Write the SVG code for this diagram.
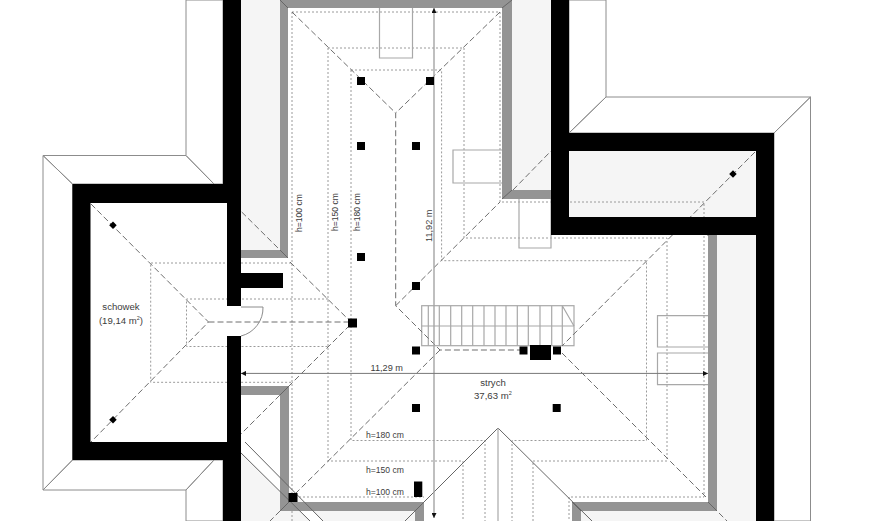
<svg xmlns="http://www.w3.org/2000/svg" width="885" height="521" viewBox="0 0 885 521">
<style>
.wall{fill:#000}
.light{fill:#f5f5f5}
.band{fill:#949494}
.dot{fill:none;stroke:#9a9a9a;stroke-width:1;stroke-dasharray:2 2}
.dash{fill:none;stroke:#6e6e6e;stroke-width:1;stroke-dasharray:6 3}
.edge{fill:none;stroke:#a8a8a8;stroke-width:1.2}
.thin{fill:none;stroke:#666;stroke-width:1}
.sq{fill:#000}
.outline{fill:none;stroke:#8c8c8c;stroke-width:1}
text{font-family:"Liberation Sans",Arial,sans-serif;font-size:9.6px;fill:#3c3c3c}
.dim{font-size:9.2px}
.sm{font-size:8.6px}
.sup{font-size:5.5px}
</style>
<defs>
<pattern id="hh" patternUnits="userSpaceOnUse" width="6.2" height="6.2"><rect width="6.2" height="6.2" fill="#fff"/><path d="M0 3H6.2" stroke="#a0a0a0" stroke-width="1.2"/></pattern>
<pattern id="hv" patternUnits="userSpaceOnUse" width="6.2" height="6.2"><rect width="6.2" height="6.2" fill="#fff"/><path d="M3 0V6.2" stroke="#a0a0a0" stroke-width="1.2"/></pattern>
<marker id="ah" markerWidth="6" markerHeight="5" refX="5" refY="2.5" orient="auto-start-reverse" markerUnits="userSpaceOnUse"><path d="M0 0L5 2.5L0 5Z" fill="#111"/></marker>
</defs>
<rect width="885" height="521" fill="#fff"/>

<g id="hatching">
<path fill="url(#hh)" class="outline" d="M43 155.5L72.5 184V460L43 490Z"/>
<path fill="url(#hh)" class="outline" d="M810.5 97L774 133V521H810.5Z"/>
<path fill="url(#hh)" class="outline" d="M186 0V155.5L214 184H223V0Z"/>
<path fill="url(#hh)" class="outline" d="M186 521V490L214 460H223V521Z"/>
<path fill="url(#hh)" class="outline" d="M569 0H606V97L569 133Z"/>
<path fill="url(#hv)" class="outline" d="M43 155.5H186L214 184H72.5Z"/>
<path fill="url(#hv)" class="outline" d="M72.5 460H214L186 490H43Z"/>
<path fill="url(#hv)" class="outline" d="M606 97H810.5L774 133H569Z"/>
</g>

<g id="eaves">
<rect class="light" x="241" y="0" width="39" height="250"/>
<rect class="light" x="512" y="0" width="39" height="190"/>
<rect class="light" x="569" y="151" width="187" height="66"/>
<rect class="light" x="717" y="235" width="39" height="286"/>
<path class="light" d="M581 521V511H717V521Z"/>
<path class="light" d="M245 442L280 479V395H241V442Z" fill="#fff" style="fill:#fff"/>
<path class="light" d="M241 452L310 521H241Z"/>
<path class="light" d="M245 442L280 479V511H415V521H323Z"/>
<rect class="band" x="280" y="0" width="8" height="258"/>
<rect class="band" x="241" y="250" width="47" height="8"/>
<rect class="band" x="288" y="0" width="224" height="8"/>
<rect class="band" x="502" y="0" width="10" height="199"/>
<rect class="band" x="502" y="190" width="49" height="9"/>
<rect class="band" x="708" y="235" width="9" height="276"/>
<rect class="band" x="572" y="502" width="145" height="9"/>
<rect class="band" x="572" y="502" width="9" height="19"/>
<rect class="band" x="241" y="386" width="48" height="9"/>
<rect class="band" x="280" y="386" width="9" height="125"/>
<rect class="band" x="280" y="502" width="144" height="9"/>
<rect class="band" x="415" y="502" width="9" height="19"/>
</g>

<g id="height-lines">
<path class="dot" d="M292 12H500V202H704V497H569V521"/>
<path class="dot" d="M292 12V497H424"/>
<path class="dot" d="M292 511V521"/>
<path class="dot" d="M328 48H464V238H667V461H533V521"/>
<path class="dot" d="M328 48V461H463V521"/>
<path class="dot" d="M351 70H441.6V260.7H646.5V440.5H512V521"/>
<path class="dot" d="M351 70V440.5H485V521"/>
<path class="dot" d="M241 263H150.7V382.3H292"/>
<path class="dot" d="M328 299H186.5V346.5H328"/>
<path class="dot" d="M241 263H292"/>
</g>

<g id="windows">
<path class="edge" d="M379.5 8V58H412.5V8"/>
<path class="edge" d="M502 150H453V183H502"/>
<path class="edge" d="M519 199V248H551V199"/>
<path class="edge" d="M708 315.7H657.5V347H708"/>
<path class="edge" d="M708 353H657.5V384.7H708"/>
</g>

<g id="stairs">
<rect class="edge" x="421.7" y="305.7" width="152.3" height="40"/>
<path class="edge" d="M421.7 326H574M428.3 305.7V345.7M439.3 305.7V345.7M450.7 305.7V345.7M461.7 305.7V345.7M472.7 305.7V345.7M484 305.7V345.7M495 305.7V345.7M506 305.7V345.7M517.3 305.7V345.7M528.3 305.7V345.7M540 305.7V345.7M551.7 305.7V345.7M562.3 305.7V345.7M562.3 305.7L574 326"/>
</g>

<g id="ridges">
<path class="dash" d="M292 12L395.7 113V305.7L440 350H520"/>
<path class="dash" d="M500 12L395.7 113"/>
<path class="dash" d="M395.7 305.7L500 202"/>
<path class="dash" d="M513 190L551 151"/>
<path class="dash" d="M755 152L562 346"/>
<path class="dash" d="M562 353L706 497"/>
<path class="dash" d="M719 513L727 521"/>
<path class="dash" d="M440 350L292 497"/>
<path class="dash" d="M280 511L270 521"/>
<path class="dash" d="M91 204L208.500 322L91 442"/>
<path class="dash" d="M208.500 322H352"/>
<path class="dash" d="M241.700 212L280 250"/>
<path class="dash" d="M290 262L352 323L241 434"/>
<path class="thin" d="M280 0L288 8M512 0L502 8M502 199L512 190M288 258L280 250M289 386L280 395M572 502L581 511M708 502L717 511M708 235V236M280 511L289 502"/>
<path class="thin" d="M424 502L415 511"/>
</g>

<g id="gable">
<path class="thin" d="M405 521L498 428L592 521M245 442L323 521M240 452L310 521"/>
<path class="edge" d="M498 428V521"/>
</g>

<g id="dimensions">
<path d="M434 8V518" fill="none" stroke="#a4a4a4" stroke-width="1.4" marker-start="url(#ah)" marker-end="url(#ah)"/>
<path d="M241 373.400H708" fill="none" stroke="#777" stroke-width="1" marker-start="url(#ah)" marker-end="url(#ah)"/>
</g>

<g id="walls">
<path class="wall" d="M72.500 184H223V0H241V306H227V203H90.500V442H227V336H241V521H223V460H72.500Z"/>
<rect class="wall" x="241" y="273" width="42" height="15"/>
<path class="wall" fill-rule="evenodd" d="M551 0H569V133H774V521H756V235H551ZM569 151V217H756V151Z"/>
<path class="outline" d="M241 307H263A29 29 0 0 1 241 336"/>
</g>

<g id="chimneys">
<rect class="sq" x="357" y="77" width="8" height="8"/><rect class="sq" x="426" y="77" width="8" height="8"/>
<rect class="sq" x="357" y="142" width="8" height="8"/><rect class="sq" x="412" y="142" width="8" height="8"/>
<rect class="sq" x="357" y="253" width="8" height="8"/><rect class="sq" x="412" y="282" width="8" height="8"/>
<rect class="sq" x="348" y="318.500" width="9" height="9"/>
<rect class="sq" x="412" y="346.500" width="8" height="8"/>
<rect class="sq" x="519.500" y="346.500" width="8" height="8"/>
<rect class="sq" x="553" y="346.500" width="8" height="8"/>
<rect class="sq" x="530" y="345" width="21" height="15"/>
<rect class="sq" x="412" y="404" width="8" height="8"/>
<rect class="sq" x="552.700" y="404" width="8" height="8"/>
<rect class="sq" x="288.500" y="493" width="9" height="9"/>
<rect class="sq" x="414" y="481.500" width="8.300" height="15.500"/>
<path class="sq" d="M113 221.500L116.700 225.300L113 229L109.200 225.300Z"/>
<path class="sq" d="M113 416L116.700 419.700L113 423.500L109.200 419.700Z"/>
<path class="sq" d="M733 170.300L736.700 174L733 177.800L729.200 174Z"/>
</g>

<g id="labels">
<text x="121" y="310" text-anchor="middle">schowek</text>
<text x="121" y="323.500" text-anchor="middle">(19,14 m<tspan class="sup" dy="-4">2</tspan><tspan dy="4">)</tspan></text>
<text class="sm" transform="translate(301.500 232) rotate(-90)">h=100 cm</text>
<text class="sm" transform="translate(338 231) rotate(-90)">h=150 cm</text>
<text class="sm" transform="translate(360 231) rotate(-90)">h=180 cm</text>
<text class="dim" transform="translate(431.500 242) rotate(-90)">11,92 m</text>
<text class="dim" x="370.500" y="370.700">11,29 m</text>
<text x="493" y="386" text-anchor="middle">strych</text>
<text x="474" y="399">37,63 m<tspan class="sup" dy="-4">2</tspan></text>
<text class="sm" x="366" y="437.700">h=180 cm</text>
<text class="sm" x="366" y="472.700">h=150 cm</text>
<text class="sm" x="366" y="494.700">h=100 cm</text>
</g>
</svg>
